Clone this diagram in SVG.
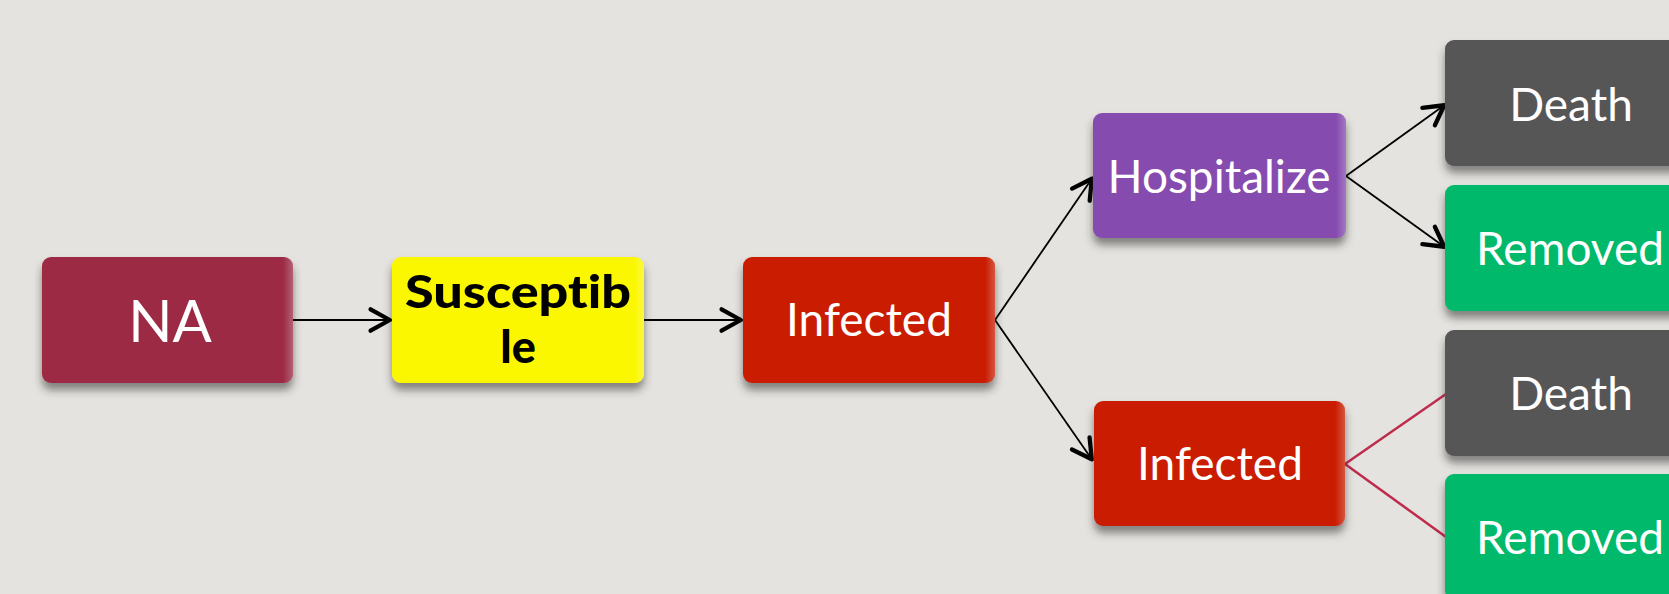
<svg xmlns="http://www.w3.org/2000/svg" width="1669" height="594" viewBox="0 0 1669 594">
  <defs>
    <filter id="shadow" x="-10%" y="-20%" width="120%" height="150%">
      <feDropShadow dx="0" dy="7" stdDeviation="4" flood-color="#333" flood-opacity="0.55"/>
    </filter>
    <linearGradient id="gloss" x1="0" y1="0" x2="1" y2="0">
      <stop offset="0" stop-color="#fff" stop-opacity="0"/>
      <stop offset="0.96" stop-color="#fff" stop-opacity="0"/>
      <stop offset="1" stop-color="#fff" stop-opacity="0.25"/>
    </linearGradient>
    <marker id="chevron" markerUnits="userSpaceOnUse" markerWidth="30" markerHeight="30" viewBox="-24 -14 28 28" refX="0" refY="0" orient="auto">
      <path d="M-20,-10 L-2,0 L-20,10" fill="none" stroke="#000" stroke-width="4" stroke-linecap="round" stroke-linejoin="round"/>
    </marker>
    <style>
      .box { filter: url(#shadow); }
      .edge { fill: url(#gloss); stroke: none; }
      .lbl { font-family: Lato, "Open Sans", "Liberation Sans", sans-serif; font-size: 46px; fill: #fff; text-anchor: middle; }
      .big { font-size: 58px; }
      .blk { font-family: Lato, "Liberation Sans", sans-serif; font-size: 45px; font-weight: 900; fill: #000; text-anchor: middle; font-variant-ligatures: none; }
      .arrow { stroke: #000; stroke-width: 1.8; fill: none; marker-end: url(#chevron); }
      .link { stroke: #BE2B4C; stroke-width: 2.5; fill: none; }
    </style>
  </defs>

  <rect x="0" y="0" width="1669" height="594" fill="#E5E3DF"/>

  <g id="connectors">
    <line class="arrow" x1="293" y1="320" x2="392" y2="320"/>
    <line class="arrow" x1="644" y1="320" x2="743" y2="320"/>
    <line class="arrow" x1="995" y1="320" x2="1093" y2="177"/>
    <line class="arrow" x1="995" y1="320" x2="1093" y2="461"/>
    <line class="arrow" x1="1346" y1="176" x2="1446" y2="104"/>
    <line class="arrow" x1="1346" y1="176" x2="1446" y2="248"/>
    <line class="link" x1="1345" y1="464" x2="1446" y2="394"/>
    <line class="link" x1="1345" y1="464" x2="1446" y2="537"/>
  </g>

  <g id="node-na">
    <rect class="box" x="42" y="257" width="251" height="126" rx="9" fill="#9C2B45"/>
    <rect class="edge" x="42" y="257" width="251" height="126" rx="9"/>
    <text class="lbl big" x="170" y="342">NA</text>
  </g>

  <g id="node-susceptible">
    <rect class="box" x="392" y="257" width="252" height="126" rx="9" fill="#FBF700"/>
    <rect class="edge" x="392" y="257" width="252" height="126" rx="9"/>
    <text class="blk" x="518" y="308" textLength="226" lengthAdjust="spacingAndGlyphs">Susceptib</text>
    <text class="blk" x="518" y="363">le</text>
  </g>

  <g id="node-infected">
    <rect class="box" x="743" y="257" width="252" height="126" rx="9" fill="#C91F04"/>
    <rect class="edge" x="743" y="257" width="252" height="126" rx="9"/>
    <text class="lbl" x="869" y="336">Infected</text>
  </g>

  <g id="node-hospitalize">
    <rect class="box" x="1093" y="113" width="253" height="125" rx="9" fill="#864CAF"/>
    <rect class="edge" x="1093" y="113" width="253" height="125" rx="9"/>
    <text class="lbl" x="1219" y="193" textLength="223" lengthAdjust="spacingAndGlyphs">Hospitalize</text>
  </g>

  <g id="node-infected-2">
    <rect class="box" x="1094" y="401" width="251" height="125" rx="9" fill="#C91F04"/>
    <rect class="edge" x="1094" y="401" width="251" height="125" rx="9"/>
    <text class="lbl" x="1220" y="480">Infected</text>
  </g>

  <g id="node-death-1">
    <rect class="box" x="1445" y="40" width="252" height="126" rx="9" fill="#565656"/>
    <text class="lbl" x="1571" y="121">Death</text>
  </g>

  <g id="node-removed-1">
    <rect class="box" x="1445" y="185" width="252" height="126" rx="9" fill="#00B96B"/>
    <text class="lbl" x="1570" y="265">Removed</text>
  </g>

  <g id="node-death-2">
    <rect class="box" x="1445" y="330" width="252" height="126" rx="9" fill="#565656"/>
    <text class="lbl" x="1571" y="410">Death</text>
  </g>

  <g id="node-removed-2">
    <rect class="box" x="1445" y="474" width="252" height="126" rx="9" fill="#00B96B"/>
    <text class="lbl" x="1570" y="554">Removed</text>
  </g>
</svg>
